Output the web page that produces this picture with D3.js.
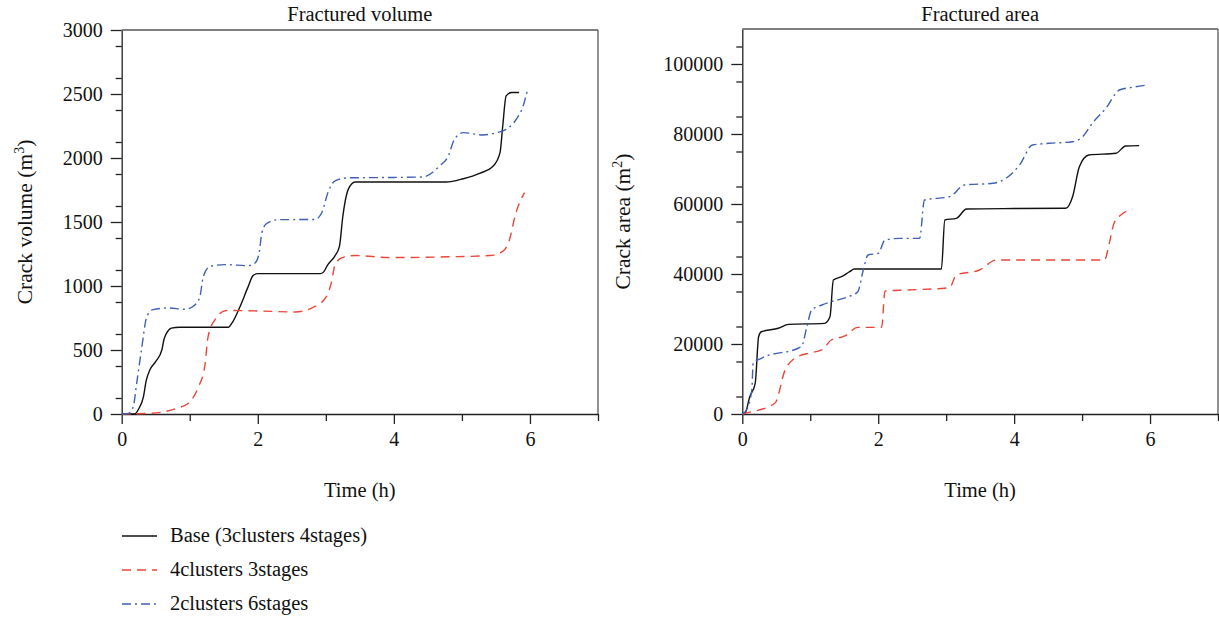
<!DOCTYPE html>
<html><head>
<meta charset="utf-8">
<script src="https://d3js.org/d3.v7.min.js"></script>
<style>
  body { margin: 0; background: #fff; }
  text { font-family: 'Liberation Serif', 'Times New Roman', serif; fill: #111; }
  .axis path, .axis line { stroke: #222; stroke-width: 1.3; }
  .axis text { font-size: 20px; font-family: 'Liberation Serif', serif; fill: #111; }
</style>
</head>
<body>
<script>
// ---- data (time in h) ----
const xTicks = [0, 2, 4, 6]
const volTicks = [0, 500, 1000, 1500, 2000, 2500, 3000]
const areaTicks = [0, 20000, 40000, 60000, 80000, 100000]
const seriesNames = ["Base (3clusters 4stages)", "4clusters 3stages", "2clusters 6stages"]

// Fractured volume (m3)
const volBase = [[0,0],[0.19,0],[0.25,40],[0.32,136],[0.36,260],[0.415,345],[0.5,410],[0.59,500],[0.62,580],[0.66,632],[0.73,671],[0.85,678],[1.2,678],[1.57,678],[1.62,710],[1.74,840],[1.86,997],[1.93,1081],[2.0,1097],[2.5,1097],[2.92,1097],[2.96,1105],[3.03,1167],[3.13,1232],[3.2,1310],[3.25,1545],[3.33,1755],[3.43,1812],[4.0,1812],[4.77,1812],[5.02,1838],[5.26,1880],[5.46,1937],[5.56,2042],[5.6,2250],[5.65,2485],[5.73,2512],[5.84,2512]]
const volC4 = [[0,0],[0.42,5],[0.81,45],[0.98,84],[1.13,214],[1.22,370],[1.27,605],[1.37,736],[1.54,809],[2.0,805],[2.55,797],[2.84,840],[3.01,919],[3.08,1024],[3.13,1154],[3.23,1220],[3.43,1238],[3.94,1222],[4.8,1228],[5.41,1238],[5.6,1271],[5.7,1363],[5.78,1545],[5.92,1730]]
const volC2 = [[0,0],[0.1,5],[0.17,57],[0.22,240],[0.29,500],[0.37,762],[0.46,815],[0.68,828],[0.93,818],[1.08,854],[1.15,919],[1.2,1075],[1.3,1154],[1.52,1167],[1.86,1159],[1.96,1180],[2.02,1259],[2.06,1415],[2.13,1488],[2.3,1518],[2.84,1520],[2.94,1572],[3.03,1728],[3.13,1820],[3.33,1845],[4.0,1848],[4.43,1852],[4.67,1937],[4.8,2015],[4.89,2146],[5.02,2198],[5.31,2180],[5.51,2198],[5.65,2224],[5.8,2303],[5.9,2407],[5.96,2524]]

// Fractured area (m2)
const areaBase = [[0,0],[0.04,200],[0.11,4950],[0.19,8770],[0.24,22086],[0.28,23500],[0.53,24490],[0.68,25600],[1.21,25900],[1.29,27800],[1.34,38290],[1.46,39230],[1.58,40670],[1.65,41430],[2.5,41430],[2.93,41430],[2.98,55430],[3.15,55900],[3.3,58570],[4.0,58700],[4.76,58770],[4.86,62090],[4.96,70660],[5.1,74000],[5.5,74490],[5.64,76570],[5.84,76670]]
const areaC4 = [[0,0],[0.04,200],[0.48,3060],[0.63,12570],[0.77,15900],[0.97,17340],[1.17,18290],[1.31,21140],[1.51,22290],[1.7,24760],[2.05,24760],[2.1,35140],[2.44,35430],[3.05,36090],[3.15,39710],[3.49,41140],[3.74,44000],[5.33,44000],[5.4,48760],[5.47,54480],[5.57,56860],[5.74,58480]]
const areaC2 = [[0,0],[0.06,1140],[0.14,6860],[0.16,14490],[0.28,15910],[0.87,19230],[0.95,24940],[1.02,29710],[1.17,31140],[1.31,32090],[1.56,33510],[1.7,34940],[1.78,41140],[1.85,45430],[2.0,45910],[2.1,49710],[2.32,50190],[2.61,50190],[2.68,61140],[3.05,62090],[3.27,65430],[3.69,65910],[3.88,67340],[4.08,71140],[4.27,76860],[4.52,77340],[4.86,77800],[5.01,79230],[5.15,83060],[5.35,87340],[5.55,92570],[5.74,93340],[5.96,94000]]

const colors = ["#111111", "#e8473a", "#3f60b5"]
const dashes = [null, "9,6", "9,4,2,4"]

const svg = d3.select("body").append("svg")
  .attr("width", 1219).attr("height", 618)

function panel(opts) {
  const {left, right, top, bottom, yMax, yTicks, minorStep, title, ylab, sup, yLabX, series} = opts
  const x = d3.scaleLinear().domain([0, 7]).range([left, right])
  const y = d3.scaleLinear().domain([0, yMax]).range([bottom, top])
  const g = svg.append("g")

  // minor ticks
  const minorX = [1, 3, 5, 7]
  g.append("g").attr("class", "axis")
    .attr("transform", `translate(0,${bottom})`)
    .call(d3.axisBottom(x).tickValues(minorX).tickSize(7).tickFormat(""))
    .call(s => s.select(".domain").remove())
  const minorY = d3.range(minorStep / 2, yMax + 1, minorStep).filter(v => !yTicks.includes(v))
  g.append("g").attr("class", "axis")
    .attr("transform", `translate(${left},0)`)
    .call(d3.axisLeft(y).tickValues(minorY).tickSize(6).tickFormat(""))
    .call(s => s.select(".domain").remove())

  // major axes
  g.append("g").attr("class", "axis")
    .attr("transform", `translate(0,${bottom})`)
    .call(d3.axisBottom(x).tickValues(xTicks).tickSize(10).tickSizeOuter(0).tickPadding(8).tickFormat(d3.format("d")))
  g.append("g").attr("class", "axis")
    .attr("transform", `translate(${left},0)`)
    .call(d3.axisLeft(y).tickValues(yTicks).tickSize(11).tickSizeOuter(0).tickPadding(8).tickFormat(d3.format("d")))

  // top and right frame
  g.append("line").attr("x1", left).attr("x2", right).attr("y1", top).attr("y2", top)
    .attr("stroke", "#555").attr("stroke-width", 1.3)
  g.append("line").attr("x1", right).attr("x2", right).attr("y1", top).attr("y2", bottom)
    .attr("stroke", "#555").attr("stroke-width", 1.3)

  const line = d3.line().x(d => x(d[0])).y(d => y(d[1])).curve(d3.curveMonotoneX)
  series.forEach((s, i) => {
    g.append("path").datum(s)
      .attr("d", line)
      .attr("fill", "none")
      .attr("stroke", colors[i])
      .attr("stroke-width", 1.4)
      .attr("stroke-dasharray", dashes[i])
  })

  g.append("text").text(title)
    .attr("x", (left + right) / 2).attr("y", 21)
    .attr("text-anchor", "middle").style("font-size", "20.5px")
  g.append("text").text("Time (h)")
    .attr("x", (left + right) / 2).attr("y", 497)
    .attr("text-anchor", "middle").style("font-size", "20.5px")
  const yl = g.append("text")
    .attr("transform", `translate(${yLabX},${(top + bottom) / 2}) rotate(-90)`)
    .attr("text-anchor", "middle").style("font-size", "21.5px")
  yl.append("tspan").text(ylab + " (m")
  yl.append("tspan").text(sup).attr("dy", -8).style("font-size", "14px")
  yl.append("tspan").text(")").attr("dy", 8)
}

panel({left: 121.7, right: 598, top: 30, bottom: 414, yMax: 3000, yTicks: volTicks,
  minorStep: 250, title: "Fractured volume", ylab: "Crack volume", sup: "3", yLabX: 32,
  series: [volBase, volC4, volC2]})

panel({left: 742.3, right: 1218, top: 29, bottom: 414, yMax: 110000, yTicks: areaTicks,
  minorStep: 10000, title: "Fractured area", ylab: "Crack area", sup: "2", yLabX: 630,
  series: [areaBase, areaC4, areaC2]})

// legend
const legend = svg.append("g")
seriesNames.forEach((name, i) => {
  const yy = 536 + i * 34
  legend.append("line").attr("x1", 122).attr("x2", 157).attr("y1", yy).attr("y2", yy)
    .attr("stroke", colors[i]).attr("stroke-width", 1.4).attr("stroke-dasharray", dashes[i])
  legend.append("text").text(name).attr("x", 170).attr("y", yy + 6)
    .style("font-size", "20.5px")
})
</script>
</body></html>
